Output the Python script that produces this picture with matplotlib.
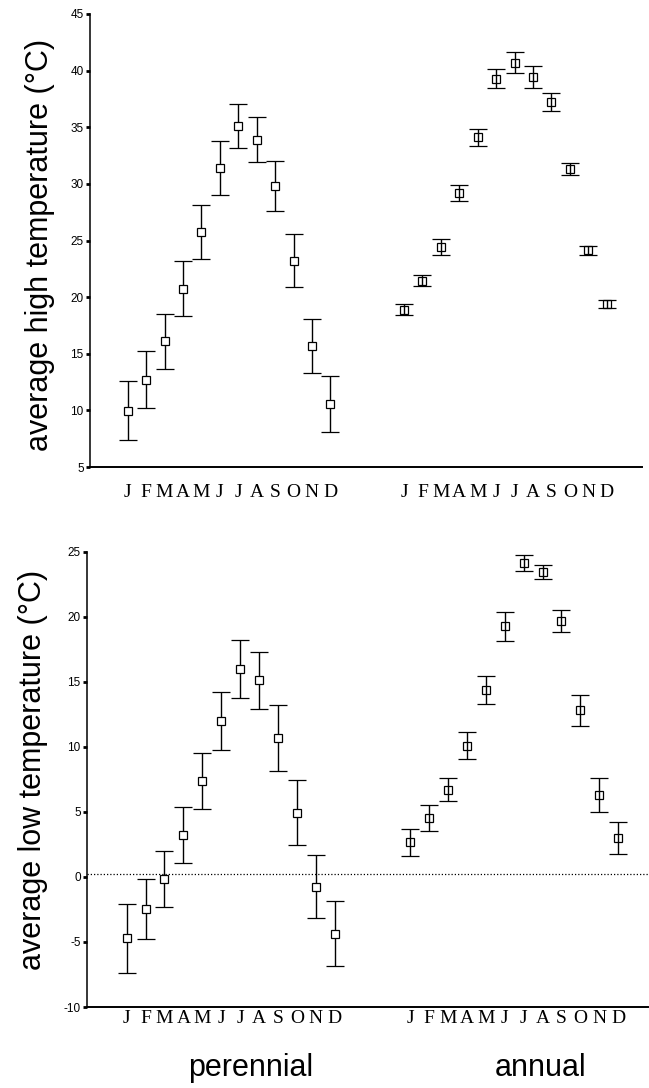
import numpy as np
import matplotlib
matplotlib.use("Agg")
import matplotlib.pyplot as plt

plt.rcParams['axes.unicode_minus'] = False

# ---------------- data ----------------
months = ['J', 'F', 'M', 'A', 'M', 'J', 'J', 'A', 'S', 'O', 'N', 'D']
pos_perennial = np.arange(1, 13)
pos_annual = np.arange(16, 28)

high_perennial = [9.95, 12.7, 16.1, 20.75, 25.75, 31.4, 35.1, 33.9, 29.8, 23.2, 15.7, 10.55]
high_perennial_err = [2.6, 2.5, 2.45, 2.4, 2.4, 2.35, 1.95, 2.0, 2.2, 2.35, 2.4, 2.5]
high_annual = [18.9, 21.45, 24.45, 29.2, 34.1, 39.3, 40.7, 39.45, 37.25, 31.3, 24.15, 19.4]
high_annual_err = [0.45, 0.5, 0.7, 0.7, 0.75, 0.8, 0.95, 1.0, 0.8, 0.55, 0.4, 0.37]

low_perennial = [-4.7, -2.45, -0.15, 3.2, 7.4, 12.0, 16.0, 15.1, 10.7, 4.95, -0.75, -4.35]
low_perennial_err = [2.65, 2.3, 2.15, 2.15, 2.15, 2.25, 2.25, 2.2, 2.55, 2.5, 2.4, 2.5]
low_annual = [2.65, 4.5, 6.7, 10.1, 14.4, 19.25, 24.15, 23.45, 19.7, 12.8, 6.3, 3.0]
low_annual_err = [1.05, 1.0, 0.9, 1.03, 1.07, 1.1, 0.6, 0.55, 0.85, 1.22, 1.3, 1.25]

high_ticks = [5, 10, 15, 20, 25, 30, 35, 40, 45]
low_ticks = [-10, -5, 0, 5, 10, 15, 20, 25]
zero_line = 0.25

W, H = 649, 1088
sans = 'Liberation Sans'
serif = 'Liberation Serif'

fig = plt.figure(figsize=(W / 100, H / 100), dpi=100)
fig.patch.set_facecolor('white')

ax1 = fig.add_axes([90 / W, 1 - 467 / H, 552 / W, 453 / H])
ax2 = fig.add_axes([87 / W, 1 - 1007 / H, 561 / W, 455.3 / H])


def draw(ax, ym, ye, ya, yae):
    common = dict(fmt='s', color='black', ecolor='black', elinewidth=1.0,
                  capsize=6.5, capthick=1.1, markersize=5.5, markeredgewidth=0.9,
                  markeredgecolor='black')
    ax.errorbar(pos_perennial, ym, yerr=ye, markerfacecolor='white', **common)
    ax.errorbar(pos_annual, ya, yerr=yae, markerfacecolor='none', **common)


draw(ax1, high_perennial, high_perennial_err, high_annual, high_annual_err)
draw(ax2, low_perennial, low_perennial_err, low_annual, low_annual_err)

ax2.axhline(zero_line, color='black', lw=0.9, ls=(0, (1, 1.6)), zorder=1)

ax1.set_xlim(-1.05, 28.92)
ax1.set_ylim(5, 45)
ax2.set_xlim(-1.1, 28.58)
ax2.set_ylim(-10, 25)
ax1.set_yticks(high_ticks)
ax2.set_yticks(low_ticks)

for ax, pad in ((ax1, 12), (ax2, 2)):
    for s in ('top', 'right'):
        ax.spines[s].set_visible(False)
    ax.spines['left'].set_linewidth(1.1)
    ax.spines['bottom'].set_linewidth(1.4)
    ax.set_xticks(list(pos_perennial) + list(pos_annual))
    ax.set_xticklabels(months + months, fontfamily=serif, fontsize=14)
    ax.tick_params(axis='x', length=0, pad=pad)
    ax.tick_params(axis='y', direction='out', length=3, width=2, labelsize=8.5, pad=1.5)
    for t in ax.get_yticklabels():
        t.set_fontfamily(sans)

ax1.set_ylabel('average high temperature (°C)', fontfamily=sans, fontsize=22, va='center')
ax1.yaxis.set_label_coords((40 - 90) / 552, 0.49)
ax2.set_ylabel('average low temperature (°C)', fontfamily=sans, fontsize=22, va='center')
ax2.yaxis.set_label_coords((33 - 87) / 561, 0.52)

fig.text(251 / W, 1 - 1068 / H, 'perennial', fontfamily=sans, fontsize=22, ha='center', va='center')
fig.text(541 / W, 1 - 1068 / H, 'annual', fontfamily=sans, fontsize=22, ha='center', va='center')

fig.savefig('out.png', dpi=100)
